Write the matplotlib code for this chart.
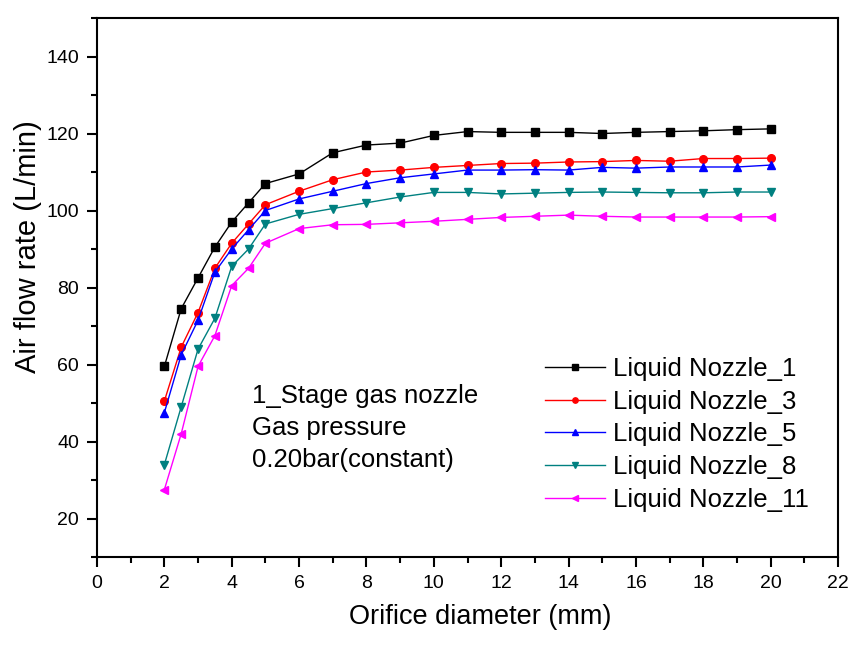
import matplotlib
matplotlib.use("Agg")
import matplotlib.pyplot as plt
from matplotlib.ticker import MultipleLocator

plt.rcParams["font.family"] = ["Liberation Sans", "DejaVu Sans"]

# orifice diameter (mm)
diameter = [2, 2.5, 3, 3.5, 4, 4.5, 5, 6, 7, 8, 9, 10, 11, 12, 13, 14, 15, 16, 17, 18, 19, 20]

# air flow rate (L/min) per liquid nozzle
nozzle_1 = [59.5, 74.5, 82.5, 90.5, 97.0, 102.0, 107.0, 109.5, 115.0, 117.0, 117.5, 119.5,
            120.5, 120.3, 120.3, 120.3, 120.0, 120.3, 120.5, 120.7, 121.0, 121.2]
nozzle_3 = [50.5, 64.5, 73.5, 85.0, 91.5, 96.5, 101.5, 105.0, 108.0, 110.0, 110.5, 111.2,
            111.7, 112.2, 112.3, 112.6, 112.7, 113.0, 112.8, 113.5, 113.5, 113.6]
nozzle_5 = [47.5, 62.5, 71.5, 84.0, 90.0, 95.0, 100.0, 103.0, 105.0, 107.0, 108.5, 109.5,
            110.5, 110.5, 110.6, 110.5, 111.2, 111.0, 111.3, 111.3, 111.3, 111.8]
nozzle_8 = [34.0, 49.0, 64.0, 72.0, 85.5, 90.0, 96.5, 99.0, 100.5, 102.0, 103.5, 104.7,
            104.7, 104.3, 104.5, 104.7, 104.8, 104.7, 104.6, 104.6, 104.8, 104.8]
nozzle_11 = [27.5, 42.0, 59.5, 67.5, 80.5, 85.0, 91.5, 95.3, 96.3, 96.4, 96.8, 97.2,
             97.7, 98.2, 98.5, 98.8, 98.5, 98.3, 98.3, 98.3, 98.3, 98.4]

series = [
    ("Liquid Nozzle_1", nozzle_1, "black", "s"),
    ("Liquid Nozzle_3", nozzle_3, "#ff0000", "o"),
    ("Liquid Nozzle_5", nozzle_5, "#0000ff", "^"),
    ("Liquid Nozzle_8", nozzle_8, "#008080", "v"),
    ("Liquid Nozzle_11", nozzle_11, "#ff00ff", "<"),
]

fig = plt.figure(figsize=(8.53, 6.46), dpi=100)
ax = fig.add_axes([97 / 853, 89 / 646, 741 / 853, 539 / 646])

for label, values, color, marker in series:
    ax.plot(diameter, values, color=color, marker=marker, markersize=5.5,
            linewidth=1.0, label=label)

ax.set_xlim(0, 22)
ax.set_ylim(10, 150)
ax.xaxis.set_major_locator(MultipleLocator(2))
ax.xaxis.set_minor_locator(MultipleLocator(1))
ax.yaxis.set_minor_locator(MultipleLocator(10))
ax.set_yticks([20, 40, 60, 80, 100, 120, 140])
ax.tick_params(which="both", direction="out", width=1.5, labelsize=14)
ax.tick_params(which="major", length=7)
ax.tick_params(which="minor", length=4)
ax.tick_params(axis="x", pad=6)
ax.tick_params(axis="y", pad=6)
for sp in ax.spines.values():
    sp.set_linewidth(1.5)

ax.set_xlabel("Orifice diameter (mm)", fontsize=19.5)
ax.xaxis.set_label_coords(0.517, -(617 - 557) / 539, transform=ax.transAxes)
ax.set_ylabel("Air flow rate (L/min)", fontsize=21)
ax.yaxis.set_label_coords(-(97 - 28) / 741, (646 - 247 - 89) / 539, transform=ax.transAxes)
ax.xaxis.label.set_va("center")
ax.yaxis.label.set_va("center")

leg = ax.legend(loc="upper left", bbox_to_anchor=(545 / 853, 1 - 357 / 646),
                bbox_transform=fig.transFigure, frameon=False, fontsize=18.5,
                handlelength=2.33, handletextpad=0.31, labelspacing=0.34,
                markerscale=0.7, borderpad=0, borderaxespad=0)

fig.text(252 / 853, 1 - 384 / 646,
         "1_Stage gas nozzle\nGas pressure\n0.20bar(constant)",
         fontsize=18.5, va="top", ha="left", linespacing=1.43)

fig.savefig("out.png", dpi=100)
